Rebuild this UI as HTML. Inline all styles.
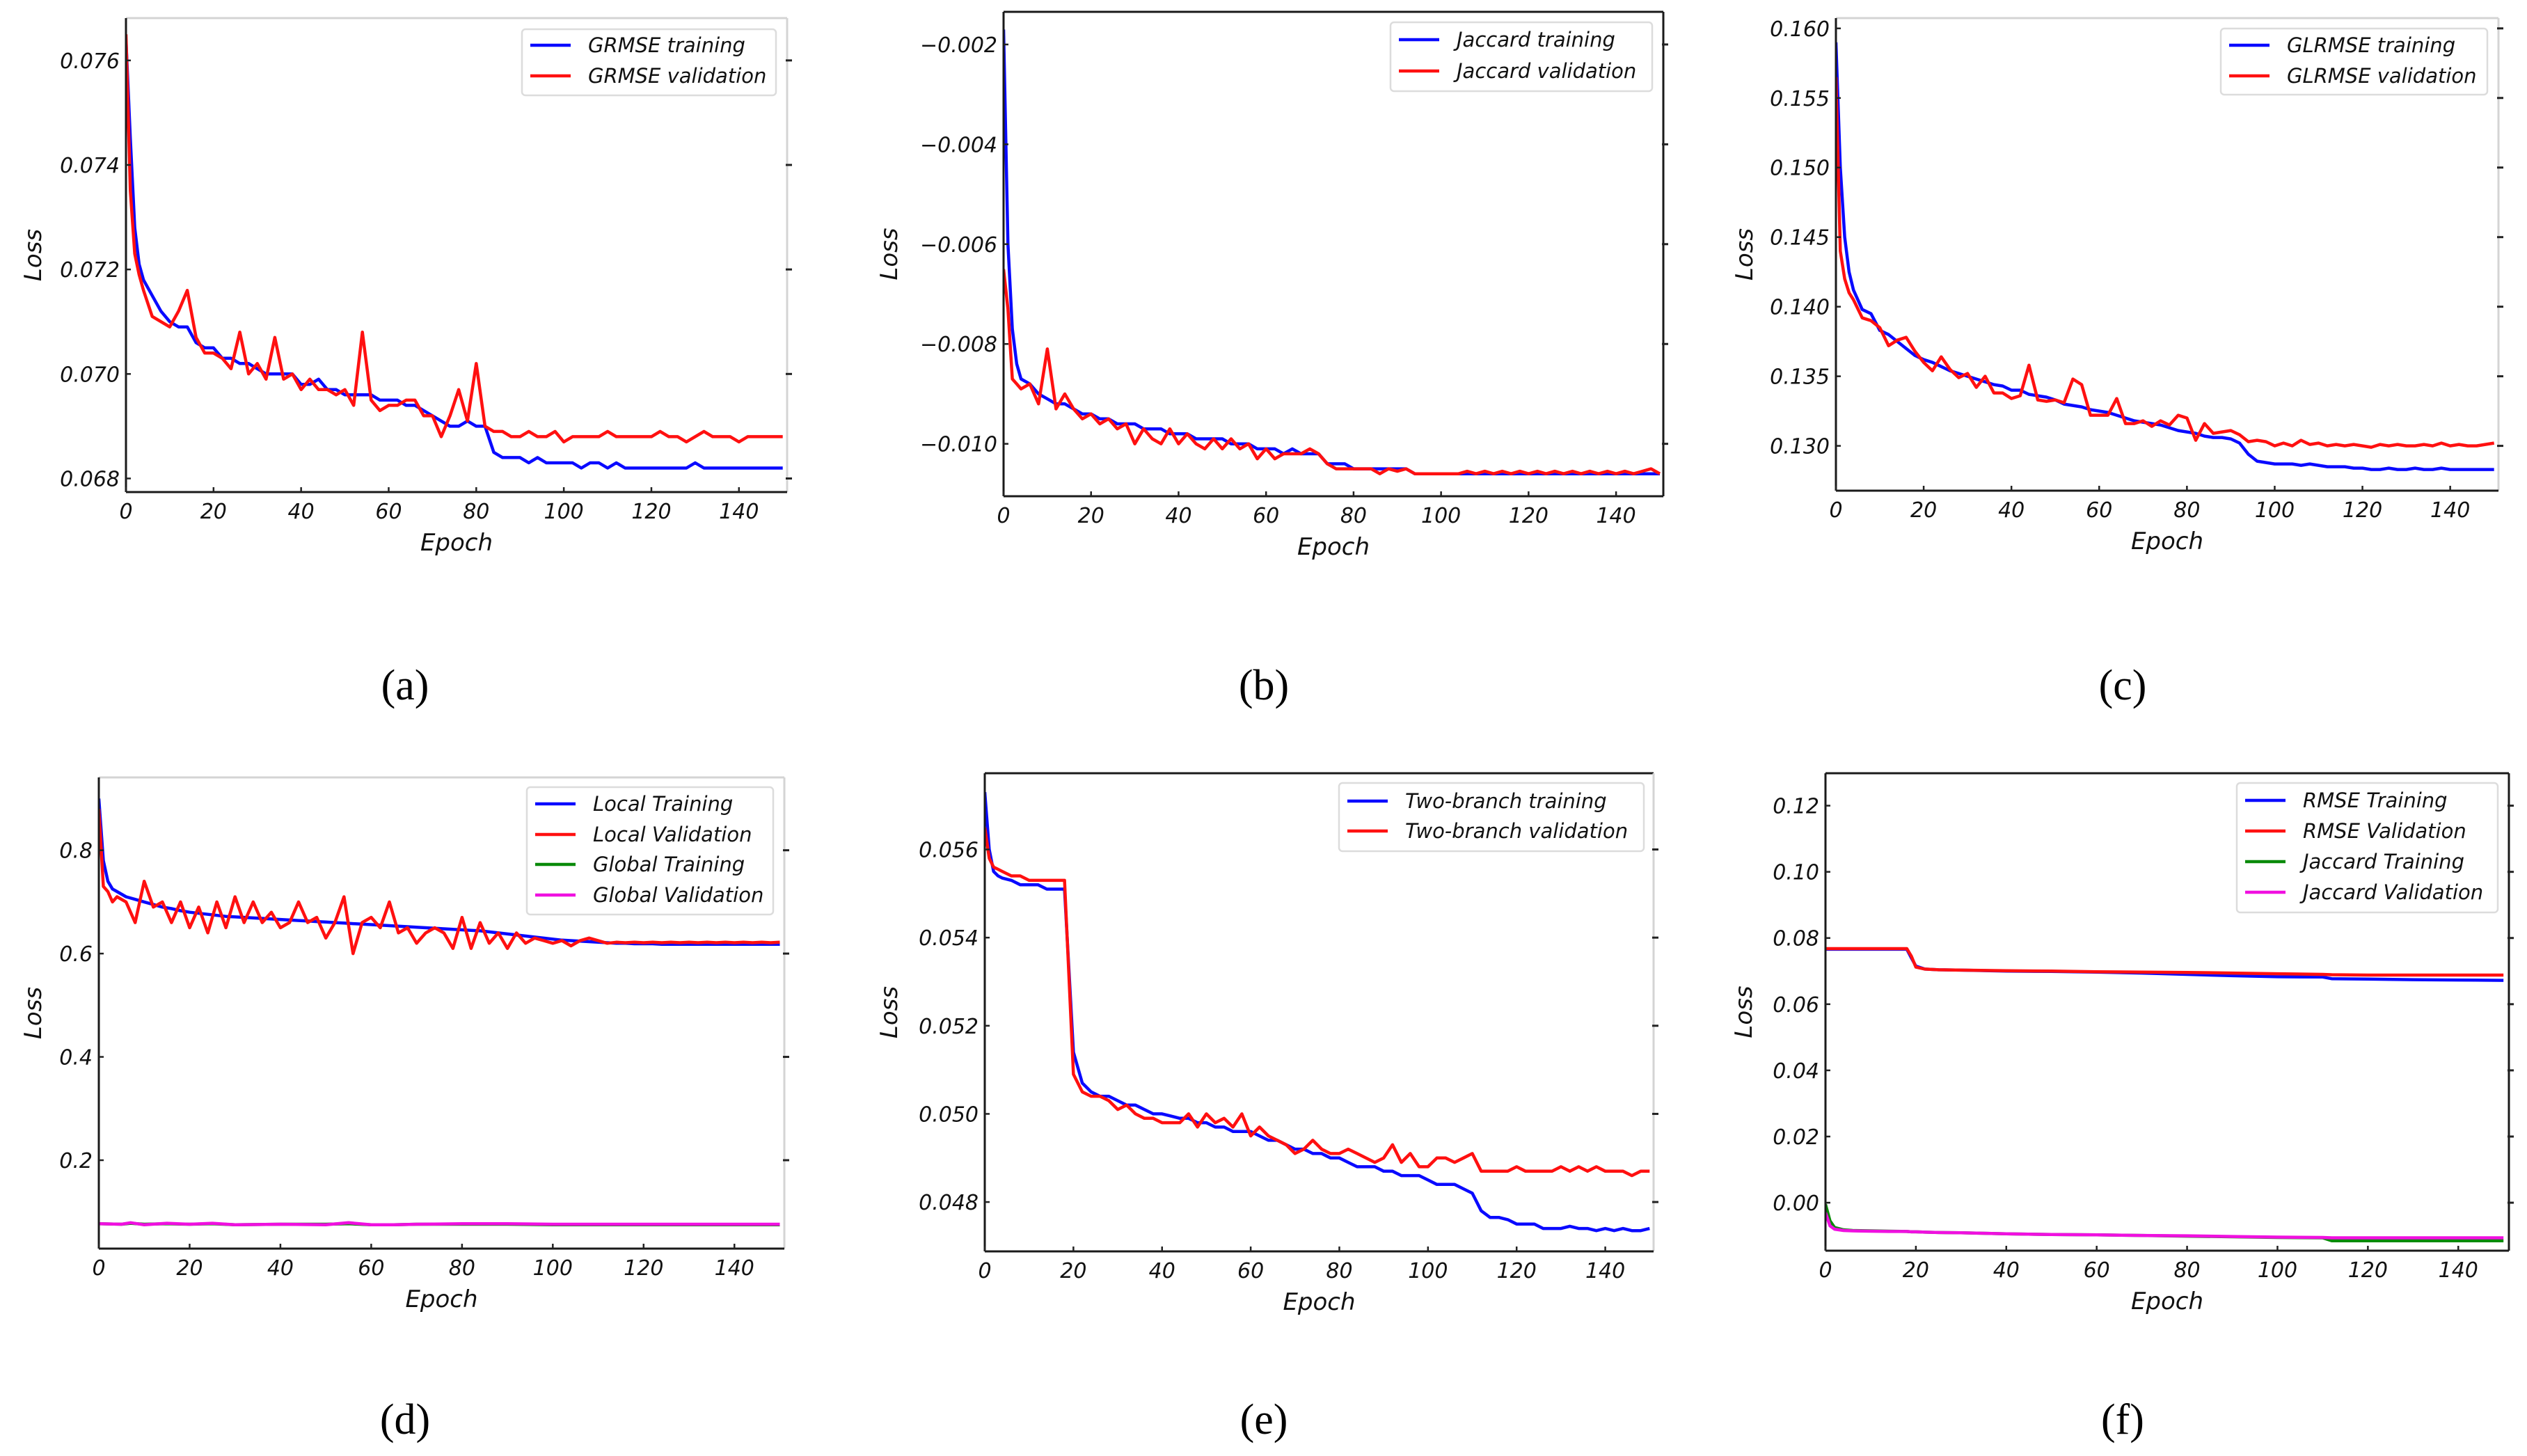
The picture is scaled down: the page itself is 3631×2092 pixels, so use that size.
<!DOCTYPE html>
<html><head><meta charset="utf-8">
<style>
html,body{margin:0;padding:0;background:#fff;}
svg{display:block;}
</style></head>
<body>
<svg id="fig" width="3631" height="2092" viewBox="0 0 3631 2092" xmlns="http://www.w3.org/2000/svg"></svg>
<script>
// ---------- shared epoch grid categories ----------
const gridEpochs = [0,1,2,3,4];
for (let e = 6; e <= 150; e += 2) gridEpochs.push(e);

// ---------- (a) GRMSE ----------
const aTicksY = [0.068,0.070,0.072,0.074,0.076];
const aTrain = [0.0764,0.0745,0.0728,0.0721,0.0718,
 0.0715,0.0712,0.0710,0.0709,0.0709,0.0706,0.0705,0.0705,0.0703,0.0703,
 0.0702,0.0702,0.0701,0.0700,0.0700,0.0700,0.0700,0.0698,0.0698,0.0699,
 0.0697,0.0697,0.0696,0.0696,0.0696,0.0696,0.0695,0.0695,0.0695,0.0694,
 0.0694,0.0693,0.0692,0.0691,0.0690,0.0690,0.0691,0.0690,0.0690,0.0685,
 0.0684,0.0684,0.0684,0.0683,0.0684,0.0683,0.0683,0.0683,0.0683,0.0682,
 0.0683,0.0683,0.0682,0.0683,0.0682,0.0682,0.0682,0.0682,0.0682,0.0682,
 0.0682,0.0682,0.0683,0.0682,0.0682,0.0682,0.0682,0.0682,0.0682,0.0682,
 0.0682,0.0682,0.0682];
const aVal = [0.0765,0.0735,0.0723,0.0719,0.0716,
 0.0711,0.0710,0.0709,0.0712,0.0716,0.0707,0.0704,0.0704,0.0703,0.0701,
 0.0708,0.0700,0.0702,0.0699,0.0707,0.0699,0.0700,0.0697,0.0699,0.0697,
 0.0697,0.0696,0.0697,0.0694,0.0708,0.0695,0.0693,0.0694,0.0694,0.0695,
 0.0695,0.0692,0.0692,0.0688,0.0692,0.0697,0.0691,0.0702,0.0690,0.0689,
 0.0689,0.0688,0.0688,0.0689,0.0688,0.0688,0.0689,0.0687,0.0688,0.0688,
 0.0688,0.0688,0.0689,0.0688,0.0688,0.0688,0.0688,0.0688,0.0689,0.0688,
 0.0688,0.0687,0.0688,0.0689,0.0688,0.0688,0.0688,0.0687,0.0688,0.0688,
 0.0688,0.0688,0.0688];

// ---------- (b) Jaccard ----------
const bTicksY = [-0.010,-0.008,-0.006,-0.004,-0.002];
const bTrain = [-0.0017,-0.0060,-0.0077,-0.0084,-0.0087,
 -0.0088,-0.0090,-0.0091,-0.0092,-0.0092,-0.0093,-0.0094,-0.0094,-0.0095,-0.0095,
 -0.0096,-0.0096,-0.0096,-0.0097,-0.0097,-0.0097,-0.0098,-0.0098,-0.0098,-0.0099,
 -0.0099,-0.0099,-0.0099,-0.0100,-0.0100,-0.0100,-0.0101,-0.0101,-0.0101,-0.0102,
 -0.0101,-0.0102,-0.0102,-0.0102,-0.0104,-0.0104,-0.0104,-0.0105,-0.0105,-0.0105,
 -0.0105,-0.0105,-0.0105,-0.0105,-0.0106,-0.0106,-0.0106,-0.0106,-0.0106,-0.0106,
 -0.0106,-0.0106,-0.0106,-0.0106,-0.0106,-0.0106,-0.0106,-0.0106,-0.0106,-0.0106,
 -0.0106,-0.0106,-0.0106,-0.0106,-0.0106,-0.0106,-0.0106,-0.0106,-0.0106,-0.0106,
 -0.0106,-0.0106,-0.0106];
const bVal = [-0.0065,-0.0073,-0.0087,-0.0088,-0.0089,
 -0.0088,-0.0092,-0.0081,-0.0093,-0.0090,-0.0093,-0.0095,-0.0094,-0.0096,-0.0095,
 -0.0097,-0.0096,-0.0100,-0.0097,-0.0099,-0.0100,-0.0097,-0.0100,-0.0098,-0.0100,
 -0.0101,-0.0099,-0.0101,-0.0099,-0.0101,-0.0100,-0.0103,-0.0101,-0.0103,-0.0102,
 -0.0102,-0.0102,-0.0101,-0.0102,-0.0104,-0.0105,-0.0105,-0.0105,-0.0105,-0.0105,
 -0.0106,-0.0105,-0.01055,-0.0105,-0.0106,-0.0106,-0.0106,-0.0106,-0.0106,-0.0106,
 -0.01055,-0.0106,-0.01055,-0.0106,-0.01055,-0.0106,-0.01055,-0.0106,-0.01055,-0.0106,
 -0.01055,-0.0106,-0.01055,-0.0106,-0.01055,-0.0106,-0.01055,-0.0106,-0.01055,-0.0106,
 -0.01055,-0.0105,-0.0106];

// ---------- (c) GLRMSE ----------
const cTicksY = [0.130,0.135,0.140,0.145,0.150,0.155,0.160];
const cTrain = [0.1590,0.1500,0.1450,0.1425,0.1412,
 0.1398,0.1395,0.1383,0.1380,0.1375,0.1370,0.1365,0.1362,0.1360,0.1357,
 0.1354,0.1352,0.1350,0.1348,0.1346,0.1344,0.1343,0.1340,0.1340,0.1337,
 0.1336,0.1335,0.1333,0.1330,0.1329,0.1328,0.1326,0.1325,0.1324,0.1322,
 0.1320,0.1318,0.1317,0.1316,0.1315,0.1313,0.1311,0.1310,0.1309,0.1307,
 0.1306,0.1306,0.1305,0.1302,0.1294,0.1289,0.1288,0.1287,0.1287,0.1287,
 0.1286,0.1287,0.1286,0.1285,0.1285,0.1285,0.1284,0.1284,0.1283,0.1283,
 0.1284,0.1283,0.1283,0.1284,0.1283,0.1283,0.1284,0.1283,0.1283,0.1283,
 0.1283,0.1283,0.1283];
const cVal = [0.1565,0.1440,0.1420,0.1410,0.1405,
 0.1392,0.1390,0.1385,0.1372,0.1376,0.1378,0.1368,0.1360,0.1354,0.1364,
 0.1355,0.1349,0.1352,0.1342,0.1350,0.1338,0.1338,0.1334,0.1336,0.1358,
 0.1333,0.1332,0.1333,0.1331,0.1348,0.1344,0.1322,0.1322,0.1322,0.1334,
 0.1316,0.1316,0.1318,0.1314,0.1318,0.1315,0.1322,0.1320,0.1304,0.1316,
 0.1309,0.1310,0.1311,0.1308,0.1303,0.1304,0.1303,0.1300,0.1302,0.1300,
 0.1304,0.1301,0.1302,0.1300,0.1301,0.1300,0.1301,0.1300,0.1299,0.1301,
 0.1300,0.1301,0.1300,0.1300,0.1301,0.1300,0.1302,0.1300,0.1301,0.1300,
 0.1300,0.1301,0.1302];

// ---------- (d) Local / Global ----------
const dTicksY = [0.2,0.4,0.6,0.8];
const dLocalTrain = [0.90,0.78,0.74,0.725,0.72,
 0.71,0.705,0.70,0.695,0.69,0.687,0.683,0.680,0.678,0.676,
 0.674,0.672,0.671,0.670,0.669,0.668,0.667,0.666,0.665,0.664,
 0.663,0.662,0.661,0.660,0.659,0.658,0.657,0.656,0.655,0.654,
 0.653,0.652,0.651,0.650,0.649,0.648,0.647,0.646,0.645,0.644,
 0.642,0.640,0.638,0.636,0.634,0.632,0.630,0.628,0.626,0.625,
 0.624,0.623,0.622,0.621,0.620,0.620,0.619,0.619,0.619,0.618,
 0.618,0.618,0.618,0.618,0.618,0.618,0.618,0.618,0.618,0.618,
 0.618,0.618,0.618];
const dLocalVal = [0.88,0.73,0.72,0.70,0.71,
 0.70,0.66,0.74,0.69,0.70,0.66,0.70,0.65,0.69,0.64,
 0.70,0.65,0.71,0.66,0.70,0.66,0.68,0.65,0.66,0.70,
 0.66,0.67,0.63,0.66,0.71,0.60,0.66,0.67,0.65,0.70,
 0.64,0.65,0.62,0.64,0.65,0.64,0.61,0.67,0.61,0.66,
 0.62,0.64,0.61,0.64,0.62,0.63,0.625,0.62,0.625,0.615,
 0.625,0.63,0.625,0.62,0.622,0.621,0.622,0.621,0.622,0.621,
 0.622,0.621,0.622,0.621,0.622,0.621,0.622,0.621,0.622,0.621,
 0.622,0.621,0.622];
const dGlobalEpochs = [0,5,7,10,15,20,25,30,40,50,55,60,65,70,80,90,100,110,120,150];
const dGlobalTrain = [0.077,0.076,0.078,0.076,0.077,0.076,0.077,0.075,0.076,0.076,0.077,0.075,0.075,0.076,0.076,0.076,0.075,0.075,0.075,0.075];
const dGlobalVal = [0.077,0.076,0.079,0.075,0.078,0.076,0.078,0.075,0.076,0.075,0.079,0.075,0.075,0.076,0.077,0.077,0.076,0.076,0.076,0.076];

// ---------- (e) Two-branch ----------
const eTicksY = [0.048,0.050,0.052,0.054,0.056];
const eTrain = [0.0573,0.0560,0.0555,0.0554,0.05535,
 0.0553,0.0552,0.0552,0.0552,0.0551,0.0551,0.0551,0.0514,0.0507,0.0505,
 0.0504,0.0504,0.0503,0.0502,0.0502,0.0501,0.0500,0.0500,0.04995,0.0499,
 0.0499,0.0498,0.0498,0.0497,0.0497,0.0496,0.0496,0.0496,0.0495,0.0494,
 0.0494,0.0493,0.0492,0.0492,0.0491,0.0491,0.0490,0.0490,0.0489,0.0488,
 0.0488,0.0488,0.0487,0.0487,0.0486,0.0486,0.0486,0.0485,0.0484,0.0484,
 0.0484,0.0483,0.0482,0.0478,0.04765,0.04765,0.0476,0.0475,0.0475,0.0475,
 0.0474,0.0474,0.0474,0.04745,0.0474,0.0474,0.04735,0.0474,0.04735,0.0474,
 0.04735,0.04735,0.0474];
const eVal = [0.0565,0.0558,0.0556,0.05555,0.0555,
 0.0554,0.0554,0.0553,0.0553,0.0553,0.0553,0.0553,0.0509,0.0505,0.0504,
 0.0504,0.0503,0.0501,0.0502,0.0500,0.0499,0.0499,0.0498,0.0498,0.0498,
 0.0500,0.0497,0.0500,0.0498,0.0499,0.0497,0.0500,0.0495,0.0497,0.0495,
 0.0494,0.0493,0.0491,0.0492,0.0494,0.0492,0.0491,0.0491,0.0492,0.0491,
 0.0490,0.0489,0.0490,0.0493,0.0489,0.0491,0.0488,0.0488,0.0490,0.0490,
 0.0489,0.0490,0.0491,0.0487,0.0487,0.0487,0.0487,0.0488,0.0487,0.0487,
 0.0487,0.0487,0.0488,0.0487,0.0488,0.0487,0.0488,0.0487,0.0487,0.0487,
 0.0486,0.0487,0.0487];

// ---------- (f) RMSE / Jaccard ----------
const fTicksY = [0.00,0.02,0.04,0.06,0.08,0.10,0.12];
const fEpochs = [0,1,2,4,6,10,14,18,19,20,22,25,30,40,50,60,70,80,90,100,110,112,120,130,140,150];
const fRmseTrain = [0.0766,0.0766,0.0766,0.0766,0.0766,0.0766,0.0766,0.0766,0.0740,0.0715,0.0706,0.0704,0.0703,0.0700,0.0699,0.0697,0.0694,0.0690,0.0686,0.0683,0.0682,0.0677,0.0676,0.0674,0.0673,0.0672];
const fRmseVal = [0.0768,0.0768,0.0768,0.0768,0.0768,0.0768,0.0768,0.0768,0.0745,0.0712,0.0706,0.0704,0.0703,0.0701,0.0700,0.0698,0.0697,0.0696,0.0694,0.0692,0.0690,0.0689,0.0688,0.0688,0.0688,0.0688];
const fJacTrain = [-0.0005,-0.0055,-0.0075,-0.0082,-0.0084,-0.0085,-0.0086,-0.0087,-0.0088,-0.0088,-0.0089,-0.0090,-0.0091,-0.0094,-0.0096,-0.0097,-0.0099,-0.0101,-0.0103,-0.0105,-0.0106,-0.0115,-0.0115,-0.0115,-0.0115,-0.0115];
const fJacVal = [-0.0030,-0.0070,-0.0080,-0.0084,-0.0085,-0.0086,-0.0087,-0.0087,-0.0088,-0.0088,-0.0089,-0.0090,-0.0091,-0.0094,-0.0096,-0.0097,-0.0099,-0.0100,-0.0102,-0.0104,-0.0105,-0.0106,-0.0106,-0.0106,-0.0106,-0.0106];

const xTicks = [0,20,40,60,80,100,120,140];

const NS = 'http://www.w3.org/2000/svg';
const svg = document.getElementById('fig');
function mk(tag, attrs, parent) {
  const el = document.createElementNS(NS, tag);
  for (const k in attrs) el.setAttribute(k, attrs[k]);
  (parent || svg).appendChild(el);
  return el;
}
const FONT = '"DejaVu Sans", "Liberation Sans", sans-serif';

function panel(cfg) {
  const g = mk('g', {});
  
  
  const L = cfg.box[0], R = cfg.box[1], T = cfg.box[2], B = cfg.box[3];
  const sx = v => L + (v - cfg.xr[0]) / (cfg.xr[1] - cfg.xr[0]) * (R - L);
  const sy = v => B - (v - cfg.yr[0]) / (cfg.yr[1] - cfg.yr[0]) * (B - T);

  const cp = mk('clipPath', {id: 'clip-' + cfg.id}, g);
  mk('rect', {x: L, y: T, width: R - L, height: B - T}, cp);

  cfg.series.forEach(s => {
    let d = '';
    s.y.forEach((v, i) => { d += (i ? 'L' : 'M') + sx(s.x[i]).toFixed(1) + ',' + sy(v).toFixed(1); });
    const p = mk('path', {d: d, fill: 'none', stroke: s.color, 'stroke-width': 4.5, 'stroke-linejoin': 'round', 'clip-path': 'url(#clip-' + cfg.id + ')'}, g);
    
    
  });

  const lightSides = cfg.light || [];
  const sides = {top: [L, T, R, T], right: [R, T, R, B], bottom: [L, B, R, B], left: [L, T, L, B]};
  for (const k in sides) {
    const c = sides[k];
    const ln = mk('line', {x1: c[0], y1: c[1], x2: c[2], y2: c[3], stroke: lightSides.includes(k) ? '#d4d4d4' : '#1a1a1a', 'stroke-width': 3}, g);
    
    
  }

  cfg.yTicks.forEach(v => {
    const y = sy(v);
    mk('line', {x1: L, y1: y, x2: L + 7, y2: y, stroke: '#222', 'stroke-width': 2.5}, g);
    mk('line', {x1: R - 2, y1: y, x2: R + 7, y2: y, stroke: '#222', 'stroke-width': 3}, g);
    const t = mk('text', {x: L - 9, y: y + 11, 'text-anchor': 'end', 'font-family': FONT, 'font-style': 'italic', 'font-size': 30, fill: '#111'}, g);
    t.textContent = v.toFixed(cfg.yDec).replace('-', '\u2212');
    
    
  });
  xTicks.forEach(v => {
    const x = sx(v);
    mk('line', {x1: x, y1: B, x2: x, y2: B - 7, stroke: '#222', 'stroke-width': 2.5}, g);
    const t = mk('text', {x: x, y: B + 38, 'text-anchor': 'middle', 'font-family': FONT, 'font-style': 'italic', 'font-size': 30, fill: '#111'}, g);
    t.textContent = String(v);
    
    
  });
  const xt = mk('text', {x: (L + R) / 2, y: B + 84, 'text-anchor': 'middle', 'font-family': FONT, 'font-style': 'italic', 'font-size': 34, fill: '#111'}, g);
  xt.textContent = 'Epoch';
  
  
  const yx = L - cfg.ylabOff, yy = (T + B) / 2;
  const yt = mk('text', {x: yx, y: yy, transform: 'rotate(-90 ' + yx + ' ' + yy + ')', 'text-anchor': 'middle', 'dominant-baseline': 'central', 'font-family': FONT, 'font-style': 'italic', 'font-size': 34, fill: '#111'}, g);
  yt.textContent = 'Loss';
  
  

  const lg = cfg.legend;
  const lgG = mk('g', {}, g);
  
  
  mk('rect', {x: lg.x, y: lg.y, width: lg.w, height: lg.h, rx: 5, fill: '#fff', stroke: '#dcdcdc', 'stroke-width': 2.5}, lgG);
  cfg.series.forEach((s, i) => {
    const ry = lg.rows[i];
    const ent = mk('g', {}, lgG);
    
    
    mk('line', {x1: lg.x + 12, y1: ry, x2: lg.x + 70, y2: ry, stroke: s.color, 'stroke-width': 4.5}, ent);
    const t = mk('text', {x: lg.x + 95, y: ry + 10, 'font-family': FONT, 'font-style': 'italic', 'font-size': 29, fill: '#111'}, ent);
    t.textContent = s.label;
  });

  const cap = mk('text', {x: cfg.cap[0], y: cfg.cap[1], 'text-anchor': 'middle', 'font-family': '"Liberation Serif", serif', 'font-size': 62, fill: '#000'});
  cap.textContent = '(' + cfg.id + ')';
  
  
}

const BLUE = '#0a0aff', RED = '#ff1010', GREEN = '#0a8a0a', MAG = '#f010e0';

panel({id: 'a', box: [181, 1131, 26, 707], xr: [0, 151], yr: [0.06774, 0.07681], yTicks: aTicksY, yDec: 3, ylabOff: 133,
  light: ['top', 'right'],
  legend: {x: 750, y: 42, w: 365, h: 95, rows: [65, 109]}, cap: [582, 1005],
  series: [{name: 'grmse-training-line', label: 'GRMSE training', color: BLUE, x: gridEpochs, y: aTrain},
           {name: 'grmse-validation-line', label: 'GRMSE validation', color: RED, x: gridEpochs, y: aVal}]});
panel({id: 'b', box: [1442, 2390, 17, 713], xr: [0, 150.8], yr: [-0.01105, -0.001346], yTicks: bTicksY, yDec: 3, ylabOff: 164,
  legend: {x: 1998, y: 32, w: 376, h: 99, rows: [57, 102]}, cap: [1816, 1005],
  series: [{name: 'jaccard-training-line', label: 'Jaccard training', color: BLUE, x: gridEpochs, y: bTrain},
           {name: 'jaccard-validation-line', label: 'Jaccard validation', color: RED, x: gridEpochs, y: bVal}]});
panel({id: 'c', box: [2638, 3590, 26, 705], xr: [0, 151], yr: [0.12678, 0.16074], yTicks: cTicksY, yDec: 3, ylabOff: 131,
  light: ['top', 'right'],
  legend: {x: 3191, y: 41, w: 383, h: 95, rows: [65, 109]}, cap: [3050, 1005],
  series: [{name: 'glrmse-training-line', label: 'GLRMSE training', color: BLUE, x: gridEpochs, y: cTrain},
           {name: 'glrmse-validation-line', label: 'GLRMSE validation', color: RED, x: gridEpochs, y: cVal}]});
panel({id: 'd', box: [142, 1127, 1117, 1794], xr: [0, 151], yr: [0.0289, 0.941], yTicks: dTicksY, yDec: 1, ylabOff: 94,
  light: ['top', 'right'],
  legend: {x: 757, y: 1131, w: 354, h: 183, rows: [1155, 1199, 1242, 1286]}, cap: [582, 2060],
  series: [{name: 'local-training-line', label: 'Local Training', color: BLUE, x: gridEpochs, y: dLocalTrain},
           {name: 'local-validation-line', label: 'Local Validation', color: RED, x: gridEpochs, y: dLocalVal},
           {name: 'global-training-line', label: 'Global Training', color: GREEN, x: dGlobalEpochs, y: dGlobalTrain},
           {name: 'global-validation-line', label: 'Global Validation', color: MAG, x: dGlobalEpochs, y: dGlobalVal}]});
panel({id: 'e', box: [1415, 2376, 1111, 1798], xr: [0, 150.9], yr: [0.04688, 0.05773], yTicks: eTicksY, yDec: 3, ylabOff: 137,
  light: ['right'],
  legend: {x: 1924, y: 1125, w: 438, h: 98, rows: [1151, 1194]}, cap: [1816, 2060],
  series: [{name: 'two-branch-training-line', label: 'Two-branch training', color: BLUE, x: gridEpochs, y: eTrain},
           {name: 'two-branch-validation-line', label: 'Two-branch validation', color: RED, x: gridEpochs, y: eVal}]});
panel({id: 'f', box: [2623, 3605, 1111, 1797], xr: [0, 151.2], yr: [-0.0145, 0.1298], yTicks: fTicksY, yDec: 2, ylabOff: 117,
  legend: {x: 3214, y: 1125, w: 375, h: 186, rows: [1150, 1194, 1238, 1282]}, cap: [3050, 2060],
  series: [{name: 'rmse-training-line', label: 'RMSE Training', color: BLUE, x: fEpochs, y: fRmseTrain},
           {name: 'rmse-validation-line', label: 'RMSE Validation', color: RED, x: fEpochs, y: fRmseVal},
           {name: 'jaccard-training-line', label: 'Jaccard Training', color: GREEN, x: fEpochs, y: fJacTrain},
           {name: 'jaccard-validation-line', label: 'Jaccard Validation', color: MAG, x: fEpochs, y: fJacVal}]});
</script>
</body></html>
